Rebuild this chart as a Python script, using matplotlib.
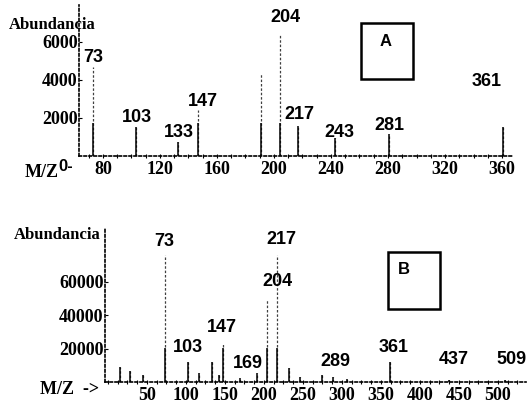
import matplotlib
matplotlib.use("Agg")
import matplotlib.pyplot as plt
from matplotlib.patches import Rectangle
from matplotlib.ticker import MultipleLocator

# Spectrum A
mz_a = [73, 103, 133, 147, 191, 204, 217, 243, 281, 361]
ab_a = [4700, 1530, 740, 2420, 4370, 6360, 1580, 950, 1160, 1500]
lab_a = ["73", "103", "133", "147", "204", "217", "243", "281", "361"]
lab_a_pos = [(73, 5200), (104, 2050), (133, 1260), (150, 2840), (208, 7300),
             (218, 2160), (245.6, 1260), (281, 1630), (349.5, 3900)]
ticks_a_x = [80, 120, 160, 200, 240, 280, 320, 360]
ticks_a_y = [2000, 4000, 6000]

# Spectrum B
mz_b = [15, 28, 45, 73, 103, 117, 133, 143, 147, 169, 191, 204, 217, 232,
        246, 274, 289, 306, 361, 437, 509]
ab_b = [9000, 6600, 4200, 76000, 12000, 5400, 12000, 4000, 23400, 2500,
        5400, 50000, 76000, 8400, 3000, 4200, 3000, 2000, 12000, 1000, 1000]
lab_b = ["73", "217", "204", "147", "103", "169", "289", "361", "437", "509"]
lab_b_pos = [(72, 84000), (222, 85200), (217, 60000), (146, 32400), (103, 21000),
             (179, 11400), (292, 12000), (366, 21000), (443, 13200), (518, 13200)]
ticks_b_x = [50, 100, 150, 200, 250, 300, 350, 400, 450, 500]
ticks_b_y = [20000, 40000, 60000]

W, H = 528, 412
peak_font = dict(family="Liberation Sans", weight="bold", size=13)
tick_font = dict(family="Liberation Serif", weight="bold", size=13)

fig = plt.figure(figsize=(W / 100, H / 100), dpi=100)


def draw(ax, mz, ab, labels, label_pos, xt, yt, xlim, ylim):
    ax.set_xlim(*xlim)
    ax.set_ylim(*ylim)
    # faint dotted stems with a solid foot, like the scanned trace
    ax.vlines(mz, 0, ab, colors="0.25", lw=0.9, linestyles=(0, (2, 1.5)))
    ax.vlines(mz, 0, [min(a, 0.22 * ylim[1]) for a in ab], colors="black", lw=1.1)
    for t, (x, y) in zip(labels, label_pos):
        ax.text(x, y, t, ha="center", va="center", clip_on=False, **peak_font)
    for s in ["top", "right"]:
        ax.spines[s].set_visible(False)
    for s in ["left", "bottom"]:
        ax.spines[s].set_linestyle((0, (1.5, 1.5)))
        ax.spines[s].set_linewidth(1.2)
    ax.set_xticks(xt)
    ax.set_xticklabels([str(v) for v in xt], **tick_font)
    ax.set_yticks(yt)
    ax.set_yticklabels([str(v) for v in yt], **tick_font)
    ax.xaxis.set_minor_locator(MultipleLocator(10))
    ax.tick_params(axis="x", which="both", direction="inout", length=3, width=0.8, pad=2)
    ax.tick_params(axis="y", direction="in", length=2, width=0.8, pad=1)
    ax.patch.set_alpha(0)


ax1 = fig.add_axes([79 / W, 1 - 156 / H, (512 - 79) / W, (156 - 5) / H])
draw(ax1, mz_a, ab_a, lab_a, lab_a_pos, ticks_a_x, ticks_a_y, (63.2, 367), (0, 7940))
fig.text(9 / W, 1 - 25 / H, "Abundancia", ha="left", va="center",
         family="Liberation Serif", weight="bold", size=12)
fig.text(25 / W, 1 - 173 / H, "M/Z", ha="left", va="center",
         family="Liberation Serif", weight="bold", size=13)
fig.text(58 / W, 1 - 166 / H, "0-", ha="left", va="center",
         family="Liberation Sans", weight="bold", size=12)
fig.patches.append(Rectangle((361 / W, 1 - 79 / H), 52 / W, 56 / H, transform=fig.transFigure,
                             fill=False, ec="black", lw=1.8))
fig.text(386 / W, 1 - 42 / H, "A", ha="center", va="center",
         family="Liberation Sans", weight="bold", size=12)

ax2 = fig.add_axes([105 / W, 1 - 382 / H, (526 - 105) / W, (382 - 228) / H])
draw(ax2, mz_b, ab_b, lab_b, lab_b_pos, ticks_b_x, ticks_b_y, (-3.8, 536), (0, 92400))
ax2.xaxis.set_minor_locator(MultipleLocator(12.5))
fig.text(101 / W, 1 - 235 / H, "Abundancia", ha="right", va="center",
         family="Liberation Serif", weight="bold", size=12)
fig.text(40 / W, 1 - 390 / H, "M/Z  ->", ha="left", va="center",
         family="Liberation Serif", weight="bold", size=13)
fig.patches.append(Rectangle((388 / W, 1 - 309 / H), 52 / W, 57 / H, transform=fig.transFigure,
                             fill=False, ec="black", lw=1.8))
fig.text(404 / W, 1 - 270 / H, "B", ha="center", va="center",
         family="Liberation Sans", weight="bold", size=12)

fig.savefig("out.png", dpi=100)
